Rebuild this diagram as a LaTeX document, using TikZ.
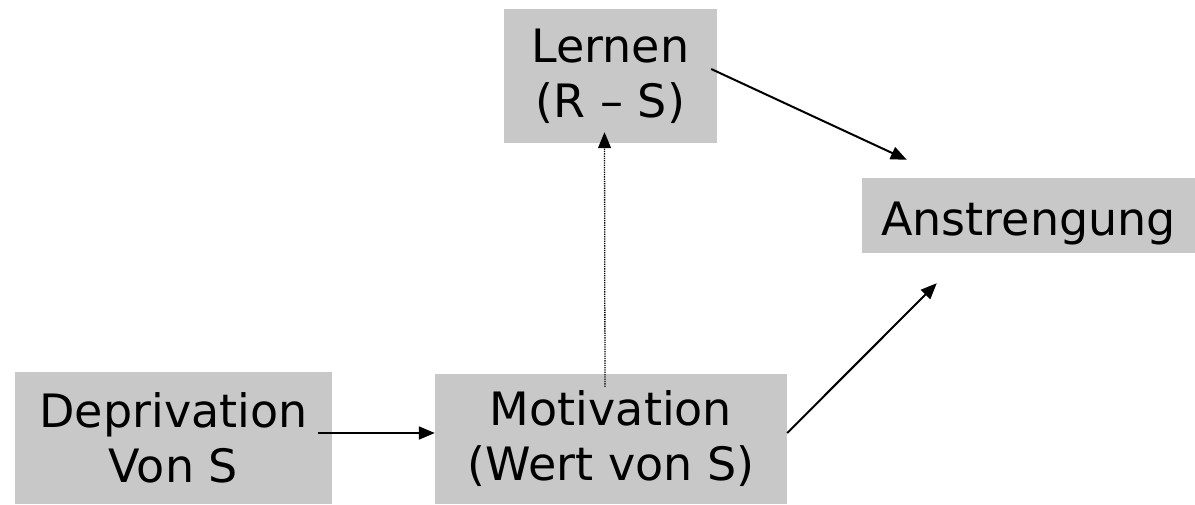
\documentclass[tikz,border=0pt]{standalone}
\usepackage{fontspec}
\setmainfont{DejaVu Sans}
\usetikzlibrary{calc}
\usetikzlibrary{arrows.meta}
\definecolor{boxgray}{RGB}{200,200,200}

\begin{document}
\begin{tikzpicture}[x=1pt, y=-1pt,
        box/.style={fill=boxgray, inner sep=0pt, align=center, font=\fontsize{46}{55}\selectfont},
        arr/.style={line width=2pt, -{Triangle[length=16pt, width=13pt]}}]
        \useasboundingbox (0,0) rectangle (1195,504);
        \node[box, minimum width=213pt, minimum height=134pt] (lern) at (610.5,76){Lernen\\(R – S)};
        \node[box, minimum width=333pt, minimum height=75pt, text height=39pt, text depth=0pt] (anst) at (1028.5,215.5){Anstrengung};
        \node[box, minimum width=317pt, minimum height=132pt] (depr) at (173.5,438){Deprivation\\Von S};
        \node[box, minimum width=352pt, minimum height=130pt] (moti) at (611,439){Motivation\\(Wert von S)};
        \draw[arr]($(depr.east)+(-14,-5)$)--(moti.west|-0,433);
        \draw[arr, line width=1.3pt, densely dotted]($(moti.north)+(-6,13)$)--($(lern.south)+(-6,-11)$);
        \draw[arr]($(lern.east)+(-6,-7)$)--($(anst.north west)+(45,-18)$);
        \draw[arr]($(moti.east)+(0,-6)$)--($(anst.south west)+(75,30)$);
    \end{tikzpicture}
\end{document}
